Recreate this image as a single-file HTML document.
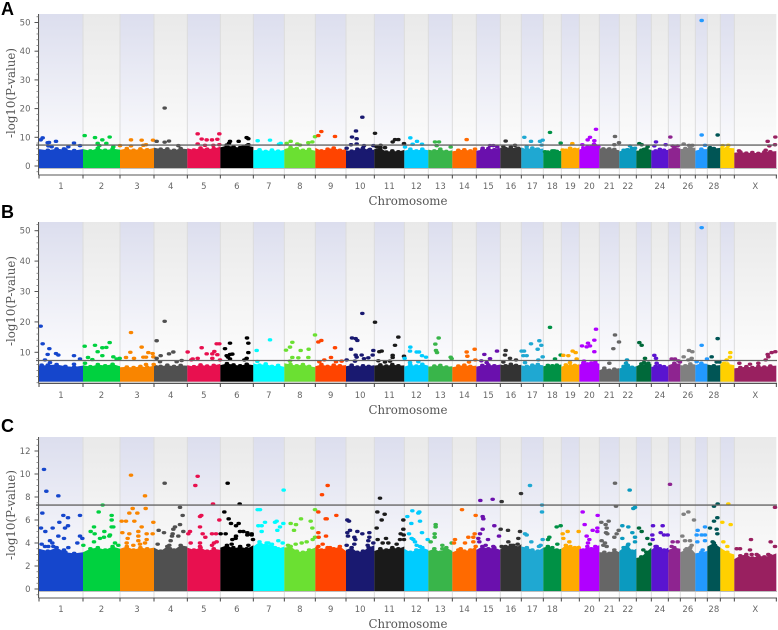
<!DOCTYPE html>
<html>
<head>
<meta charset="utf-8">
<title>Manhattan plots</title>
<style>
html,body{margin:0;padding:0;background:#fff;width:778px;height:630px;overflow:hidden}
svg{display:block;position:absolute;left:0;top:0;filter:blur(0.35px)}
.tick{font:8.5px "DejaVu Sans",sans-serif;fill:#666}
.title{font:11.8px "DejaVu Serif",serif;fill:#555}
.letter{position:absolute;left:1px;font:bold 18px/18px "Liberation Sans",sans-serif;color:#000}
</style>
</head>
<body>
<svg id="chart" width="778" height="630" viewBox="0 0 778 630" xmlns="http://www.w3.org/2000/svg">
<defs>
<linearGradient id="bandBlue" x1="0" y1="0" x2="0" y2="1"><stop offset="0" stop-color="#dcdeee"/><stop offset="0.85" stop-color="#fbfbfd"/><stop offset="1" stop-color="#ffffff"/></linearGradient>
<linearGradient id="bandGrey" x1="0" y1="0" x2="0" y2="1"><stop offset="0" stop-color="#e9e9e9"/><stop offset="0.85" stop-color="#fcfcfc"/><stop offset="1" stop-color="#ffffff"/></linearGradient>
</defs>
</svg>
<div class="letter" style="top:0px">A</div>
<div class="letter" style="top:203px">B</div>
<div class="letter" style="top:417px">C</div>
<script>
const chromNames = ["1","2","3","4","5","6","7","8","9","10","11","12","13","14","15","16","17","18","19","20","21","22","23","24","25","26","27","28","29","X"];
const chromLengths = [132,111,102,100,99,99,93,93,92,85,90,72,72,72,72,63,66,54,54,60,60,51,45,51,36,45,36,39,42,126];
const chromColors = ["#1546cc","#00d13f","#f98500","#505050","#e8104f","#000000","#00fbff","#6be032","#ff4400","#191970","#1a1a1a","#00ccff","#39b54a","#ff6a00","#6a10ad","#333333","#1fa8d2","#009145","#ffaa00","#b000ff","#666666","#0b9abf","#00693a","#5a14d0","#8e2490","#808080","#2299ff","#005555","#ffd000","#992060"];
const labelsA = ["1","2","3","4","5","6","7","8","9","10","11","12","13","14","15","16","17","18","19","20","21","22","24","26","28","X"];
const labelsB = ["1","2","3","4","5","6","7","8","9","10","11","12","13","14","15","16","17","18","19","20","21","22","24","26","28","X"];
const labelsC = ["1","2","3","4","5","6","7","8","9","10","11","12","13","14","15","16","17","18","20","21","22","24","26","28","X"];
const yTicksA = [0,10,20,30,40,50];
const yTicksB = [10,20,30,40,50];
const yTicksC = [0,2,4,6,8,10,12];
const thresholdA = 7.3;
const thresholdB = 7.3;
const thresholdC = 7.3;

const massA = [[5.9,5.5,6,5.7,5.4,5.9],[5.9,5.3,6.2,5.5,6,5.7],[5.6,6.1,5.5,6,5.7,6.3],[6.4,5.9,6,5.5,6.1,5.9],[6.2,5.6,6.3,5.9,6.1,6.7],[6.5,7.1,6.7,6.4,7.1,6.6],[5.5,5.7,5.1,5.6,5.2,5.6],[5.9,6.5,6.1,5.5,5.8,5.3],[6.3,5.3,5.9,6.3,5.5,5.9],[5.5,5.2,5.9,6.3,5.5,5.7],[5.9,6.3,4.9,5.3,5,5.6],[5.3,5.9,5.3,5.9,5.5],[5.7,5.3,5.9,5.1,5.5],[5.1,5.5,5.7,5.3,5.8],[5.3,5.7,6.1,5.7,6.3],[6.3,6.1,6.6,6,6.3],[6.5,5.8,6.3,5.9,6.1],[5.1,4.9,5.3,5.1,5.3],[6.2,5.5,6.1,5.8,6.5],[5.7,6.3,6.6,6.7,7.1,6.3],[6.3,5.6,6,5.8,5.5],[5.1,5.5,5.7,6.1,6.3],[5.3,5.5,6,5.6],[5.5,5.3,5.8,5.5,5.6],[5.9,6.5,6.1],[5.9,6.1,6.5,6.3],[5.3,5.9,5.9],[6.5,6.1,6.3],[6.7,6.3,6.2],[4.6,4.9,4.5,4.7,4.4,4.9,5,5.2]];
const massB = [[5.6,5.8,6,5.4,5.2,5.6],[5.8,5.3,6,5.6,6.1,5.4],[5.1,5.2,5,5.4,5.1,5.6],[6,5.4,5.8,5.4,5.7,5.6],[5.8,5.3,5.9,5.5,5.7,6.2],[5.8,6.3,5.9,5.6,6.1,5.8],[6.4,5.8,6.2,5.4,5.7,5.2],[6.4,6,5.6,6,5.4,5.1],[5.4,6,5.4,5.8,5.6,5.8],[5.4,5.8,5.2,5.6,5.4,5.8],[5.6,5.9,5.5,6,5.6,5.7],[5.3,5.9,5.5,6.1,5.6],[5.3,5.5,5.7,5.2,5.4],[5.1,5.5,5.8,5.4,5.6],[5.3,5.7,5.9,5.6,6],[6,5.6,6.1,5.7,5.9],[5.7,5.4,5.8,6,5.7],[5.4,5.7,5.6,5.8,6],[5.2,5.9,5.6,5.7,6.1],[5.9,6.5,6.2,6.5,6.8,6.2],[4.1,4.8,4.1,4.5,4.8],[4.6,5.4,5.7,5.1,5.4],[5.4,6.2,5.8,6.2],[5.2,5.4,5.6,5.3,5.4],[5.8,6.4,6.2],[5.8,5.6,6.2,6],[5.8,6.4,6.2],[6,5.6,5.8],[6.4,6.2,5.8],[4.7,5,5.3,5,5.4,5.2,5.5,5.6]];
const massC = [[3.5,3.3,3.6,3.2,3.1,3.2],[3.2,3.5,3.6,3.4,3.7,3.5],[3.5,3.7,3.4,3.6,3.5,3.6],[3.6,3.3,3.7,3.4,3.8,3.7],[3.6,3.4,3.6,3.3,3.5,3.4],[3.6,3.8,3.5,3.7,3.5,3.8],[3.7,4.1,3.8,3.9,3.5,3.7],[3.6,3.7,3.3,3.2,3.4,3.6],[3.7,3.4,3.6,3.5,3.7,3.3],[3.4,3.6,3.2,3.3,3.6,3.8],[3.3,3.5,3.4,3.6,3.5,3.7],[3.5,3.2,3.4,3.6,3.4],[3.3,3.5,3.2,3.6,3.3],[3.2,3.4,3.3,3.4,3.7],[3.4,3.7,3.5,3.6,3.4],[3.5,3.7,3.8,3.6,3.9],[3.7,3.6,3.4,3.3,3.6],[3.6,3.7,3.6,3.4,3.5],[3.5,3.8,3.7,3.6,3.8],[3.6,3.4,3.7,3.5,3.7,3.8],[3.2,3.2,3.1,3.4,3.2],[3.3,3.6,3.8,3.3,3.5],[2.7,2.8,3.2,3.6],[3.4,3.7,3.5,3.4,3.6],[3.4,3.6,3.5],[3.2,3.4,3.6,3.1],[3.1,3.2,3.3],[3.7,4,3.6],[3.6,3.2,3],[2.6,2.9,3,2.7,2.9,2.8,2.9,3.1]];

const hitsA = [[5,9.1],[11,9.8],[26,8.1],[30,8.2],[51,8.6],[75,6],[88,6.7],[105,8],[123,7.1],[28,7],[38,6.7],
[137,10.6],[168,9.9],[176,7.9],[190,9.1],[202,7.9],[212,10.1],[181,7.1],[223,6.7],[243,7.1],
[276,9.1],[308,9],[342,9],[313,7.2],[321,7.4],[276,7],
[353,8.6],[377,8.3],[390,8.7],[377,20.2],[418,7.1],
[476,11.2],[488,9.4],[503,9.1],[519,9.1],[535,9.3],[541,11.2],[476,7.7],[498,7.2],[523,7.2],[541,7.4],
[573,8.6],[599,8.6],[623,9.9],[628,9.5],[563,7.3],[570,7.9],[628,7.4],[613,6.7],
[656,8.8],[693,9],[720,7.6],[725,7.9],
[743,7.9],[755,8.6],[775,7.7],[783,7.3],[808,8.1],[820,8.4],[828,10.2],
[838,10.6],[847,12],[888,10.3],
[970,17],[951,12.2],[939,10.1],[953,9.5],[936,7.4],[953,7.7],[975,7.1],[923,6.2],[993,5.8],[1003,7.1],
[1008,11.4],[1025,7.2],[1061,8.4],[1068,9.2],[1078,9.2],[1095,7.8],[1038,6.4],[1013,6.7],
[1114,9.8],[1134,8.6],[1149,7.6],[1121,7.6],[1098,6.6],
[1188,8.4],[1200,8.4],[1193,7.1],[1235,6.6],
[1283,9.2],[1308,5.9],
[1331,6.2],[1353,7.1],[1363,7.1],[1375,6.6],
[1400,8.7],[1393,6.7],[1428,7.2],[1438,6.2],
[1456,10],[1476,8.6],[1503,8.6],[1511,9],[1508,7.3],[1463,6.7],[1493,5.8],
[1533,11.7],[1518,5],[1546,5.3],[1565,8],
[1600,7.8],[1571,5.6],[1593,6.2],
[1671,12.8],[1653,10],[1646,9.1],[1666,8.8],[1630,7.4],[1665,7.6],[1678,6.7],[1635,6.2],
[1728,10.3],[1740,8.1],[1726,7.4],[1693,6],[1708,5.7],
[1773,7],[1763,5.6],[1788,6.2],
[1801,7.8],[1808,7.4],[1826,6.7],[1815,5.8],
[1851,8.4],[1846,7],[1880,7.4],
[1894,10.1],[1916,7],[1901,7],
[1934,7.7],[1950,7.2],[1960,7.2],
[1988,50.7],[1988,10.8],[1998,7.2],
[2036,10.8],[2013,6.4],[2033,5.3],
[2051,7.1],[2068,7.2],
[2209,10.1],[2186,8.6],[2208,7.4],[2191,7],[2180,5.5],[2100,5.3]];

const hitsB = [[5,18.6],[11,12.8],[31,11.2],[26,9.3],[51,9.6],[58,9.1],[105,8.9],[123,7.8],[18,7.5],[105,6.1],[8,5.8],[33,6.6],
[137,12],[168,12.3],[190,11.5],[202,11.6],[212,13.2],[176,10.2],[190,8.9],[147,8.3],[223,8.5],[160,7.6],[242,8],[233,7.8],[138,6.4],
[276,16.5],[274,10],[308,11.7],[328,9.9],[341,9.6],[261,8.3],[285,8],[313,8.4],[321,8.4],[343,8.5],[344,6],[321,6],
[377,20.2],[353,13.8],[365,8.9],[390,9.5],[403,10.1],[353,8],[428,7.3],[413,6.9],[363,6.9],
[446,10.1],[488,11.5],[503,9.5],[520,9.5],[526,10.3],[535,9.2],[533,12.8],[541,12.8],[461,7.8],[476,8],[520,8],[543,7.5],[457,7.5],
[624,14.7],[573,13],[558,11.2],[628,13],[628,9.9],[573,9.3],[580,9.4],[563,8.9],[567,8.4],[623,8],[616,7.5],[573,7.8],
[653,10.6],[693,14.1],[655,7],
[828,15.7],[760,13.3],[753,11.7],[741,10.7],[785,10.6],[809,11],[760,8.3],[778,8.2],[808,8.3],[753,7.1],
[838,13.4],[847,13.9],[888,11.5],[876,8.3],[856,7.5],[841,6.9],[891,6.9],[908,7.1],
[970,22.8],[939,14.7],[950,14.5],[955,13.9],[936,11],[950,9.1],[968,9.1],[953,8.4],[988,8.2],[975,7.9],[1003,10.6],[1001,9.1],[923,7.5],[948,7.1],
[1008,19.9],[1078,15],[1068,12.3],[1021,10.2],[1028,10.4],[1061,9],[1061,8.3],[1095,8.7],[1018,7.2],[1038,6.8],[1053,7.1],
[1114,11.7],[1113,10.4],[1133,10.1],[1140,10.1],[1149,8.9],[1161,8.4],[1097,8],[1138,6.9],[1113,6.6],
[1199,14.7],[1189,12.7],[1191,10.6],[1194,9.9],[1235,8.4],[1238,7.9],
[1283,10.1],[1307,11],[1285,8.7],[1290,6.8],[1309,7.5],
[1336,9.3],[1374,10.4],[1353,7.9],[1327,7.2],[1343,6.6],
[1400,10.6],[1398,9.1],[1413,8],[1431,7.5],[1393,6.8],
[1448,10.4],[1455,10.4],[1453,8.9],[1463,8.9],[1476,12.8],[1501,13.8],[1507,12.3],[1496,11],[1511,8.5],[1498,7.5],[1458,6.6],
[1533,18.2],[1548,7.8],[1565,9.1],
[1573,9],[1588,8.9],[1601,10.4],[1610,9.9],[1613,7.8],[1593,6.6],
[1671,17.6],[1666,14],[1647,13],[1629,12.1],[1643,11.8],[1653,12.1],[1666,10.2],[1635,7.1],
[1728,15.7],[1740,13.4],[1723,11.2],[1711,6.4],
[1764,7.5],[1761,6.4],[1765,5.7],
[1801,13.2],[1808,12.3],[1818,8],[1815,6.6],[1828,6.4],
[1846,9],[1851,8],[1853,6.4],
[1898,7.8],[1908,7.8],[1918,7.2],[1923,6.8],
[1934,8.5],[1950,10.6],[1960,10.2],[1958,8],[1948,7.5],
[1988,51],[1988,12.3],[2004,7.8],[1973,6.9],
[2036,14.5],[2018,8.5],[2033,6.8],[2041,6.8],
[2074,9.9],[2073,8.4],[2063,7.5],[2055,6.4],
[2209,10.2],[2198,9.9],[2186,9.3],[2188,8.5],[2180,7.5],[2101,6.4],[2158,6.4],[2133,6.1]];

const hitsC = [[15,10.4],[22,8.5],[58,8.1],[10,6.6],[73,6.4],[87,6.2],[61,5.8],[41,5.3],[78,5.3],[87,5.5],[6,5.3],[19,5],[58,4.6],[123,4.6],[130,4.4],[75,4.4],[33,4.2],[40,4],[115,4],[8,3.9],[18,3.7],[28,3.7],[43,3.7],[75,3.4],[88,3.6],[123,6.4],
[191,7.3],[179,6.7],[218,6.4],[218,6],[165,5.4],[218,5.4],[223,5.4],[155,5],[167,4.8],[196,5],[213,4.7],[211,4.6],[183,4.4],[195,4.5],[133,3.8],[165,4.1],[228,4],[238,3.8],
[276,9.9],[318,8.1],[281,7],[320,7],[295,6.6],[271,6.6],[248,5.9],[261,5.9],[286,5.9],[343,5.8],[308,5.4],[250,4.9],[271,4.8],[298,5],[323,4.8],[341,4.8],[266,4.4],[298,4.6],[323,4.3],[263,4],[298,4.2],[303,3.9],[283,3.8],[318,4],
[377,9.2],[423,7.1],[431,6.4],[423,5.6],[359,5.1],[375,4.9],[408,5.4],[403,5.2],[401,4.8],[399,4.6],[395,4.2],[391,3.8],[418,4.6],[433,5],[356,3.9],[393,3.5],
[476,9.8],[469,9],[522,7.4],[483,6.3],[487,6.4],[541,6],[483,5.4],[448,4.8],[453,5],[491,4.8],[519,4.8],[531,4.8],[499,4.5],[455,4],[483,4],[525,4],[483,3.7],[533,4.1],[519,3.8],
[566,9.2],[602,7.4],[556,6.7],[569,6.1],[576,5.7],[591,5.5],[599,5.7],[545,4.8],[560,4.8],[591,4.6],[603,5],[613,5],[625,4.9],[638,4.8],[625,4.7],[638,4.7],[580,4.3],[590,4.4],[642,4.3],[578,3.9],[583,3.6],[628,3.8],
[656,6.9],[658,5.5],[734,8.6],[663,6.9],[678,5.8],[713,5.9],[708,5.8],[733,5.7],[723,5.4],[715,5.1],[668,5.5],[668,5],[718,4.2],[731,4],[683,4],[688,4],[708,3.6],
[828,6.9],[786,6.1],[815,5.9],[755,5.7],[771,5.6],[820,5.3],[765,5.1],[821,4.3],[828,4.5],[803,4.1],[788,4],[770,3.9],[747,3.8],[755,3.7],
[866,9],[849,8.2],[838,6.7],[860,6.1],[863,6.1],[892,6.4],[838,4.9],[839,4.5],[861,4.6],[851,3.9],[838,3.7],[873,3.6],
[925,6],[930,5.9],[933,5.1],[955,5],[970,4.8],[991,4.9],[925,4.9],[927,4.6],[946,4.5],[949,4.3],[991,4.5],[988,4.2],[923,3.8],[946,3.9],[986,3.8],[1003,4],
[1023,7.9],[1015,6.7],[1037,6.5],[1028,6],[1013,5.3],[1093,6],[1093,5.2],[1016,4.3],[1041,4.4],[1085,4.8],[1094,4.7],[1083,4.3],[1095,4.3],[1031,4],[1048,4],[1073,3.9],
[1120,6.8],[1138,6.6],[1141,6.7],[1105,6.3],[1117,5.7],[1143,5.9],[1110,4.8],[1149,4.9],[1118,4.4],[1123,4.3],[1128,4.1],[1133,3.8],[1166,4.3],[1143,3.7],
[1190,5.6],[1190,5.4],[1187,4.8],[1187,4.5],[1175,4.1],[1210,3.8],[1210,3.5],[1238,4],
[1269,6.9],[1310,6.4],[1288,4.5],[1307,4.8],[1303,4.5],[1248,4.3],[1278,4],[1303,4.1],[1310,3.7],[1265,3.5],[1271,3.3],[1245,4],
[1324,7.7],[1361,7.8],[1331,6.3],[1333,6.1],[1366,5.5],[1331,5.2],[1380,4.6],[1323,4.8],[1318,4.4],[1347,4.3],[1321,4.1],[1340,3.8],[1363,3.7],[1353,3.4],
[1388,7.6],[1385,5.2],[1407,5.1],[1438,4.4],[1408,4.1],[1388,3.7],[1423,3.8],[1436,3.9],[1446,8.3],[1443,5],
[1473,9],[1509,7.3],[1509,6.7],[1458,4.8],[1463,4.7],[1477,4.1],[1505,3.8],[1511,4.3],[1500,3.7],
[1553,5.4],[1565,5.5],[1531,4.5],[1527,4.3],[1555,3.9],
[1586,5],[1571,4.8],[1573,4.4],[1619,5],[1591,4.1],[1619,3.6],[1598,3.5],
[1631,6.7],[1676,6.4],[1637,5.6],[1661,5.1],[1675,5.3],[1675,5],[1643,4.6],[1651,4.3],[1647,4],[1673,3.6],
[1728,9.2],[1731,7.2],[1709,5.9],[1687,5.8],[1700,5.6],[1703,5.3],[1701,4.9],[1705,4.8],[1688,4.2],[1698,4],[1693,3.8],[1703,3.7],[1739,5.1],[1733,4.8],[1726,4.5],
[1772,8.6],[1788,7.1],[1783,7],[1750,5.5],[1768,5.4],[1780,4.9],[1750,4.4],[1788,4.5],[1788,4.1],[1768,3.9],[1758,3.6],
[1800,5.3],[1808,5],[1825,4.4],[1833,3.9],[1813,3.4],
[1842,5.5],[1871,5.5],[1865,4.9],[1875,4.7],[1886,4.7],[1840,4.7],[1841,4.3],[1853,3.7],[1883,3.3],
[1893,9.1],[1901,4.1],[1916,4.1],[1898,3.7],
[1934,6.5],[1948,6.7],[1965,6],[1930,4.6],[1938,4.2],[1953,4.2],[1943,3.5],[1958,3.8],
[1976,5.1],[1998,5.4],[1973,4.7],[1988,4.7],[1998,4.7],[1975,4.1],[1998,4.2],[1991,3.4],
[2036,7.4],[2025,7.2],[2035,6.2],[2025,5.9],[2013,5.3],[2033,5.2],[2035,4.8],[2021,4.1],[2028,3.8],
[2068,7.4],[2050,5.8],[2075,5.6],[2053,4.1],[2065,3.7],
[2208,7.1],[2136,4.3],[2103,3.5],[2093,3.5],[2195,4.1],[2133,3.4],[2138,3],[2153,3],[2188,3],[2208,3.7]];

const NS = "http://www.w3.org/2000/svg";
const svg = document.getElementById("chart");
const xPos = p => 39 + p / 3;

function mk(parent, tag, attrs) {
  const e = document.createElementNS(NS, tag);
  for (const k in attrs) e.setAttribute(k, attrs[k]);
  parent.appendChild(e);
  return e;
}
function chromStarts() {
  const s = [0];
  chromLengths.forEach(l => s.push(s[s.length - 1] + l));
  return s;
}
function chromIndex(pos, starts) {
  for (let i = 0; i < chromLengths.length; i++) if (pos < starts[i + 1]) return i;
  return chromLengths.length - 1;
}

function drawPanel(cfg) {
  const starts = chromStarts();
  const y = v => cfg.zero - v * cfg.scale;
  const g = mk(svg, "g", {});
  
  

  // alternating chromosome background bands
  chromLengths.forEach((len, i) => {
    const band = mk(g, "rect", {x: xPos(starts[i]), y: cfg.top, width: len / 3, height: cfg.axisY - cfg.top, fill: i % 2 === 0 ? "url(#bandBlue)" : "url(#bandGrey)"});
    
    
    const sep = mk(g, "line", {x1: xPos(starts[i]), x2: xPos(starts[i]), y1: cfg.top, y2: cfg.axisY, stroke: "#dcdcdc", "stroke-width": 1});
    
    
  });

  // dense mass of points below each chromosome contour
  cfg.mass.forEach((tops, i) => {
    const step = chromLengths[i] / (tops.length - 1);
    let pts = xPos(starts[i]) + "," + y(cfg.massFloor);
    const top = [];
    tops.forEach((v, j) => {
      const px = xPos(starts[i] + j * step);
      pts += " " + px + "," + y(v);
      top.push([px, y(v)]);
    });
    pts += " " + xPos(starts[i + 1]) + "," + y(cfg.massFloor);
    const poly = mk(g, "polygon", {points: pts, fill: chromColors[i]});
    
    
    top.slice(1, -1).forEach(t => mk(g, "ellipse", {cx: t[0], cy: t[1], rx: 2.3, ry: 1.7, fill: chromColors[i]}));
  });

  // baseline
  const base = mk(g, "line", {x1: 39, x2: 777, y1: y(cfg.massFloor) + 0.5, y2: y(cfg.massFloor) + 0.5, stroke: "#bdbdbd", "stroke-width": 1});
  
  

  // significant points
  cfg.hits.forEach(h => {
    const c = chromIndex(h[0], starts);
    const dot = mk(g, "ellipse", {cx: xPos(h[0]), cy: y(h[1]), rx: 2.3, ry: 1.7, fill: chromColors[c]});
    
    
  });

  // threshold
  const thr = mk(g, "line", {x1: 36, x2: 777, y1: y(cfg.threshold), y2: y(cfg.threshold), stroke: "#666", "stroke-width": 1.3});
  
  

  // y axis
  const ya = mk(g, "line", {x1: 38.5, x2: 38.5, y1: cfg.top, y2: cfg.axisY, stroke: "#555", "stroke-width": 1});
  
  
  for (let v = cfg.minorStart; y(v) >= cfg.top; v += cfg.minor) {
    if (y(v) > cfg.axisY) continue;
    mk(g, "line", {x1: 36.5, x2: 38.5, y1: y(v), y2: y(v), stroke: "#777", "stroke-width": 0.8});
  }
  cfg.yTicks.forEach(v => {
    mk(g, "line", {x1: 34.5, x2: 38.5, y1: y(v), y2: y(v), stroke: "#555", "stroke-width": 1});
    const t = mk(g, "text", {x: 30.5, y: y(v) + 3, "text-anchor": "end", class: "tick"});
    
    
    t.textContent = String(v);
  });

  // x axis
  const xa = mk(g, "line", {x1: 38.5, x2: 777, y1: cfg.axisY, y2: cfg.axisY, stroke: "#555", "stroke-width": 1});
  
  
  starts.forEach(s => mk(g, "line", {x1: xPos(s), x2: xPos(s), y1: cfg.axisY, y2: cfg.axisY + 3.5, stroke: "#444", "stroke-width": 1}));
  cfg.labels.forEach(name => {
    const i = chromNames.indexOf(name);
    const t = mk(g, "text", {x: xPos(starts[i] + chromLengths[i] / 2), y: cfg.labelY, "text-anchor": "middle", class: "tick"});
    
    
    t.textContent = name;
  });

  // axis titles
  const xt = mk(g, "text", {x: 408, y: cfg.xTitleY, "text-anchor": "middle", class: "title"});
  
  
  xt.textContent = "Chromosome";
  const yt = mk(g, "text", {transform: "translate(15," + cfg.yTitleY + ") rotate(-90)", "text-anchor": "middle", class: "title"});
  
  
  yt.textContent = "-log10(P-value)";
}

drawPanel({name: "panel-a", top: 14, axisY: 175, zero: 166, scale: 2.87, massFloor: -0.7, hits: hitsA, mass: massA, threshold: thresholdA, yTicks: yTicksA, labels: labelsA, minor: 2, minorStart: -2, labelY: 189, xTitleY: 205, yTitleY: 93});
drawPanel({name: "panel-b", top: 222, axisY: 383.5, zero: 382.7, scale: 3.04, massFloor: 0.3, hits: hitsB, mass: massB, threshold: thresholdB, yTicks: yTicksB, labels: labelsB, minor: 2, minorStart: 0, labelY: 398, xTitleY: 414, yTitleY: 301});
drawPanel({name: "panel-c", top: 437, axisY: 598, zero: 589, scale: 11.5, massFloor: -0.17, hits: hitsC, mass: massC, threshold: thresholdC, yTicks: yTicksC, labels: labelsC, minor: 0.5, minorStart: -0.5, labelY: 612, xTitleY: 628, yTitleY: 515});
</script>
</body>
</html>
